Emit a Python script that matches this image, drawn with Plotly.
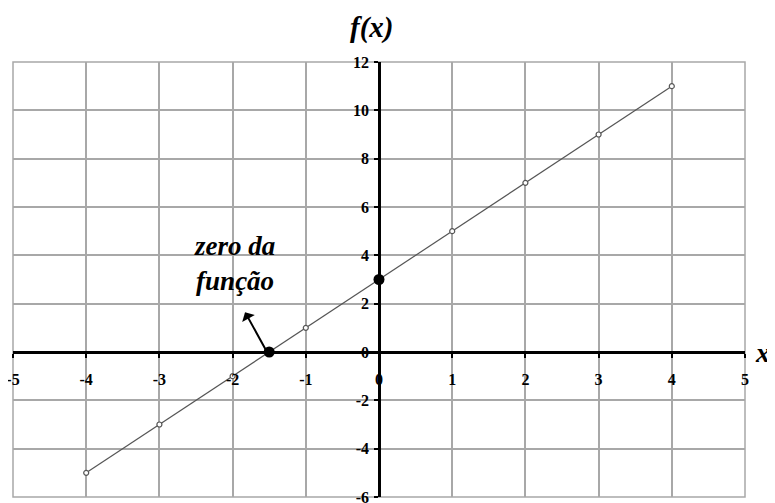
import plotly.graph_objects as go

# data: f(x) = 2x + 3
x_vals = [-4, -3, -2, -1, 0, 1, 2, 3, 4]
y_vals = [-5, -3, -1, 1, 3, 5, 7, 9, 11]

# highlighted points: the zero of the function and the y-intercept
key_x = [-1.5, 0]
key_y = [0, 3]

x_ticks = [-5, -4, -3, -2, -1, 0, 1, 2, 3, 4, 5]
y_ticks = [-6, -4, -2, 0, 2, 4, 6, 8, 10, 12]

serif = "Liberation Serif, Times New Roman, serif"
grid_col = "#a8a8a8"
label_font = dict(family=serif, size=29, color="black", weight="bold", style="italic")

fig = go.Figure()

fig.add_trace(go.Scatter(
    x=x_vals, y=y_vals, mode="lines+markers",
    line=dict(color="#555555", width=1.2),
    marker=dict(symbol="circle", size=5, color="white",
                line=dict(color="#555555", width=1.2)),
    showlegend=False, hoverinfo="skip",
))

fig.add_trace(go.Scatter(
    x=key_x, y=key_y, mode="markers",
    marker=dict(size=11, color="black"),
    showlegend=False, hoverinfo="skip",
))

# arrow from the zero towards the label
fig.add_annotation(
    x=-1.83, y=1.65, ax=-1.53, ay=0, xref="x", yref="y", axref="x", ayref="y",
    text="", showarrow=True, arrowhead=1, arrowsize=1.2, arrowwidth=2,
    arrowcolor="black", standoff=0, startstandoff=0,
)

fig.add_annotation(
    x=-1.97, y=3.68, xref="x", yref="y", showarrow=False,
    text="zero da<br>função",
    font=dict(label_font, size=27),
    align="center",
)

fig.add_annotation(
    x=0.5, y=1, xref="paper", yref="paper", yshift=16, xshift=-8,
    xanchor="center", yanchor="bottom", showarrow=False,
    text="f(x)", font=label_font,
)

fig.add_annotation(
    x=1, y=1 / 3, xref="paper", yref="paper", xshift=8,
    xanchor="left", yanchor="middle", showarrow=False,
    text="x", font=dict(label_font, size=28),
)

# outer frame of the plot area
fig.add_shape(type="rect", xref="paper", yref="paper", x0=0, y0=0, x1=1, y1=1,
              line=dict(color=grid_col, width=1.5), layer="below")

tick_font = dict(family=serif, size=16, color="black", weight="bold")

# plain hyphen minus signs, as in the original
fig.update_xaxes(
    range=[-5, 5], tickmode="array", tickvals=x_ticks,
    ticktext=[str(v) for v in x_ticks],
    showgrid=True, gridcolor=grid_col, gridwidth=1.5, zeroline=False,
    showline=True, linecolor="black", linewidth=2.5,
    anchor="free", position=1 / 3, automargin=False,
    ticks="outside", ticklen=4, tickwidth=2, tickcolor="black",
    ticklabelstandoff=8, tickfont=tick_font, ticklabeloverflow="allow",
)

fig.update_yaxes(
    range=[-6, 12], tickmode="array", tickvals=y_ticks,
    ticktext=[str(v) for v in y_ticks],
    showgrid=True, gridcolor=grid_col, gridwidth=1.5, zeroline=False,
    showline=True, linecolor="black", linewidth=2.5,
    anchor="free", position=0.5, automargin=False,
    ticks="outside", ticklen=4, tickwidth=2, tickcolor="black",
    ticklabelstandoff=2, tickfont=tick_font, ticklabeloverflow="allow",
)

# page body adds an 8px offset, so the figure is 8px smaller each way
fig.update_layout(
    width=767, height=495,
    margin=dict(l=5, r=30, t=54, b=6),
    paper_bgcolor="white", plot_bgcolor="white",
)

fig.write_html("out.html")
